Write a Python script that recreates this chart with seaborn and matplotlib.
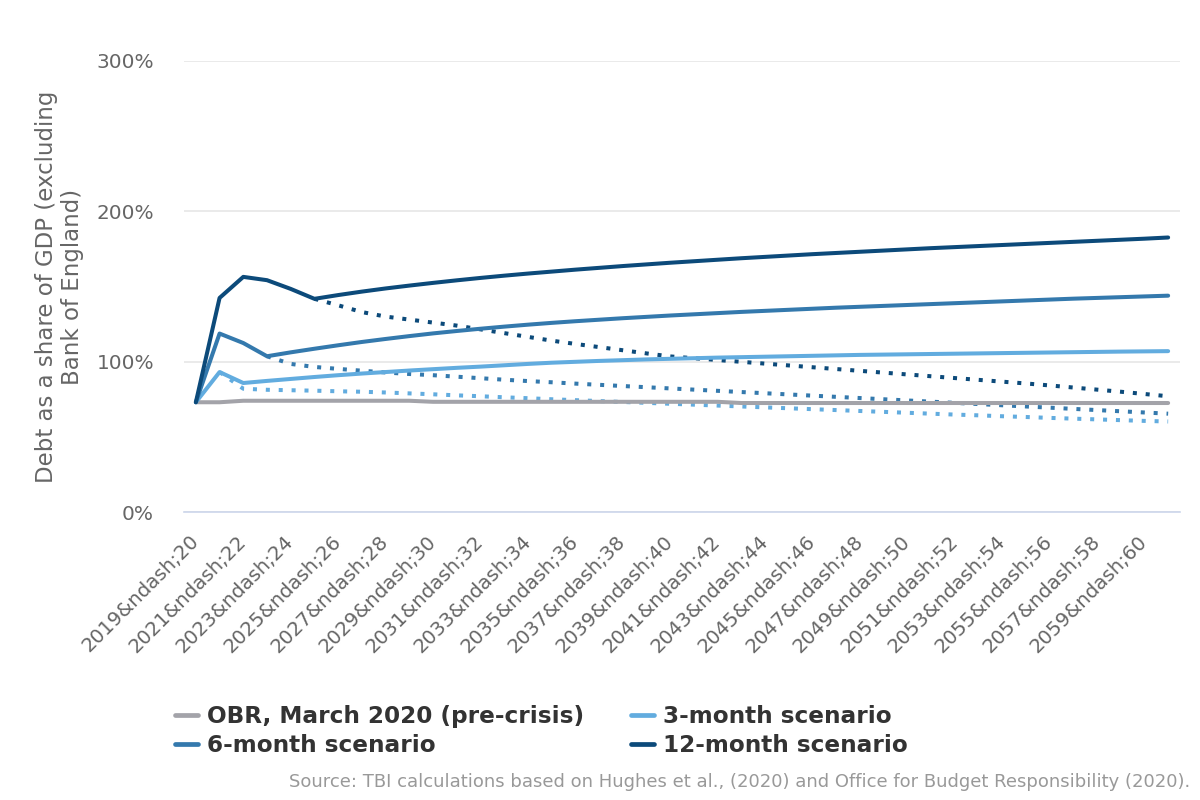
import numpy as np
import pandas as pd
import matplotlib
matplotlib.use("Agg")
import matplotlib.pyplot as plt
from matplotlib.lines import Line2D
from matplotlib.font_manager import FontProperties
import seaborn as sns

# ---------------- data ----------------
years = [f"{2019 + i}&ndash;{(20 + i) % 100:02d}" for i in range(42)]

obr = [73, 73, 74, 74, 74, 74, 74, 74, 74, 74,
       73.3, 73.3, 73.3, 73.3, 73.3, 73.3, 73.3, 73.3, 73.3, 73.3,
       73.3, 73.3, 73.3, 72.5, 72.5, 72.5, 72.5, 72.5, 72.5, 72.5,
       72.5, 72.5, 72.5, 72.5, 72.5, 72.5, 72.5, 72.5, 72.5, 72.5,
       72.5, 72.5]

m3 = [73, 93.1, 85.8, 87.2, 88.5, 89.8, 91, 92.1, 93.1, 94.1,
      95, 95.9, 96.7, 97.6, 98.5, 99.3, 99.9, 100.5, 101, 101.5,
      101.9, 102.3, 102.7, 103, 103.3, 103.6, 103.9, 104.2, 104.5, 104.7,
      104.9, 105.1, 105.3, 105.5, 105.7, 105.9, 106.1, 106.3, 106.5, 106.7,
      106.85, 107]

m6 = [73, 118.7, 112.4, 103.6, 106.2, 108.6, 110.9, 113.1, 115.1, 117,
      118.8, 120.4, 121.9, 123.3, 124.6, 125.8, 126.9, 127.9, 128.9, 129.8,
      130.7, 131.5, 132.3, 133.1, 133.8, 134.5, 135.2, 135.9, 136.5, 137.1,
      137.7, 138.3, 138.9, 139.5, 140.1, 140.7, 141.3, 141.9, 142.4, 142.9,
      143.4, 143.9]

m12 = [73, 142.4, 156.4, 154.2, 148.4, 141.8, 144.3, 146.6, 148.7, 150.6,
       152.4, 154.1, 155.7, 157.2, 158.6, 159.9, 161.2, 162.4, 163.6, 164.7,
       165.8, 166.8, 167.8, 168.8, 169.7, 170.6, 171.5, 172.3, 173.1, 173.9,
       174.7, 175.5, 176.2, 176.9, 177.6, 178.3, 179.0, 179.7, 180.4, 181.1,
       181.8, 182.6]

nan = np.nan
m3_dot = [nan, 93.1, 82, 81.3, 81, 80.7, 80.3, 80, 79.5, 78.9,
          78.3, 77.6, 77, 76.3, 75.7, 75, 74.4, 73.8, 73.2, 72.6,
          72, 71.4, 70.8, 70.2, 69.6, 69, 68.4, 67.8, 67.2, 66.6,
          66, 65.4, 64.8, 64.3, 63.7, 63.2, 62.6, 62.1, 61.6, 61.1,
          60.6, 60.2]

m6_dot = [nan, nan, nan, 103.6, 98.5, 96.5, 95.2, 94, 92.8, 91.8,
          91, 90, 89, 88, 87.1, 86.3, 85.4, 84.6, 83.8, 83,
          82.2, 81.4, 80.6, 79.8, 79, 78.2, 77.4, 76.6, 75.8, 75,
          74.2, 73.4, 72.6, 71.8, 71, 70.2, 69.4, 68.6, 67.8, 67,
          66.2, 65.4]

m12_dot = [nan, nan, nan, nan, nan, 141.8, 137.5, 133, 130, 128,
           126, 124, 121.5, 119, 116.5, 114, 111.8, 109.7, 107.6, 105.5,
           103.5, 102.3, 101.1, 99.9, 98.7, 97.5, 96.3, 95.1, 93.9, 92.7,
           91.5, 90.3, 89.1, 87.9, 86.7, 85.5, 84.2, 82.8, 81.4, 80,
           78.5, 77]

series_names = ["OBR, March 2020 (pre-crisis)", "3-month scenario",
                "6-month scenario", "12-month scenario"]
colors = ["#a3a3a9", "#62acdf", "#3479ad", "#0c4a7a"]

y_ticks = [0, 100, 200, 300]
y_label = "Debt as a share of GDP (excluding\nBank of England)"
source = ("Source: TBI calculations based on Hughes et al., (2020) and "
          "Office for Budget Responsibility (2020).")

# ---------------- frames ----------------
idx = list(range(len(years)))
solid = pd.concat([
    pd.DataFrame({"x": idx, "value": v, "series": n})
    for v, n in zip([obr, m3, m6, m12], series_names)
])
dotted = pd.concat([
    pd.DataFrame({"x": idx, "value": v, "series": n})
    for v, n in zip([m3_dot, m6_dot, m12_dot], series_names[1:])
]).dropna()

# ---------------- plot ----------------
sns.set_theme(style="white")
plt.rcParams["font.family"] = ["DejaVu Sans"]

fig = plt.figure(figsize=(12, 8), dpi=100)
ax = fig.add_axes([184 / 1200, 1 - 512 / 800, (1180 - 184) / 1200, (512 - 61) / 800])

palette = dict(zip(series_names, colors))

sns.lineplot(data=dotted, x="x", y="value", hue="series", palette=palette,
             linewidth=2.9, linestyle=(0, (1, 2.2)), dash_capstyle="butt",
             ax=ax, legend=False, sort=False, estimator=None)
sns.lineplot(data=solid, x="x", y="value", hue="series", palette=palette,
             linewidth=2.9, ax=ax, legend=False, sort=False, estimator=None,
             solid_joinstyle="round")

ax.set_xlim(-0.5, len(years) - 0.5)
ax.set_ylim(0, 300)
ax.set_yticks(y_ticks)
ax.set_yticklabels([f"{t}%" for t in y_ticks])
ax.set_xticks(idx[::2])
ax.set_xticklabels(years[::2], rotation=45, ha="right", va="center",
                   rotation_mode="anchor")

ax.yaxis.grid(True, color="#e6e6e6", linewidth=1.2)
ax.xaxis.grid(False)
for s in ["top", "right", "left"]:
    ax.spines[s].set_visible(False)
ax.spines["bottom"].set_color("#ccd6eb")
ax.spines["bottom"].set_linewidth(1.2)
ax.set_axisbelow(True)

ax.tick_params(axis="y", length=0, pad=21.6, labelsize=14.4, labelcolor="#666666")
ax.tick_params(axis="x", length=0, pad=19, labelsize=14.2, labelcolor="#666666")
ax.set_xlabel("")
ax.set_ylabel(y_label, fontsize=16.5, color="#666666", linespacing=1.15, labelpad=9)

handles = [Line2D([0], [0], color=c, linewidth=3.4) for c in colors]
order = [0, 2, 1, 3]
leg_font = FontProperties(family="DejaVu Sans", weight="bold", size=16.7)
leg = fig.legend([handles[i] for i in order], [series_names[i] for i in order],
                 loc="upper left", bbox_to_anchor=(175 / 1200, 1 - 705 / 800),
                 ncol=2, frameon=False, prop=leg_font, handlelength=0.98,
                 handletextpad=0.42, columnspacing=2.0, labelspacing=0.26,
                 borderaxespad=0, borderpad=0)
for t in leg.get_texts():
    t.set_color("#333333")

fig.text(1190 / 1200, 1 - 782 / 800, source, ha="right", va="center",
         color="#999999", fontsize=13)

fig.savefig("out.png", dpi=100, facecolor="white")
